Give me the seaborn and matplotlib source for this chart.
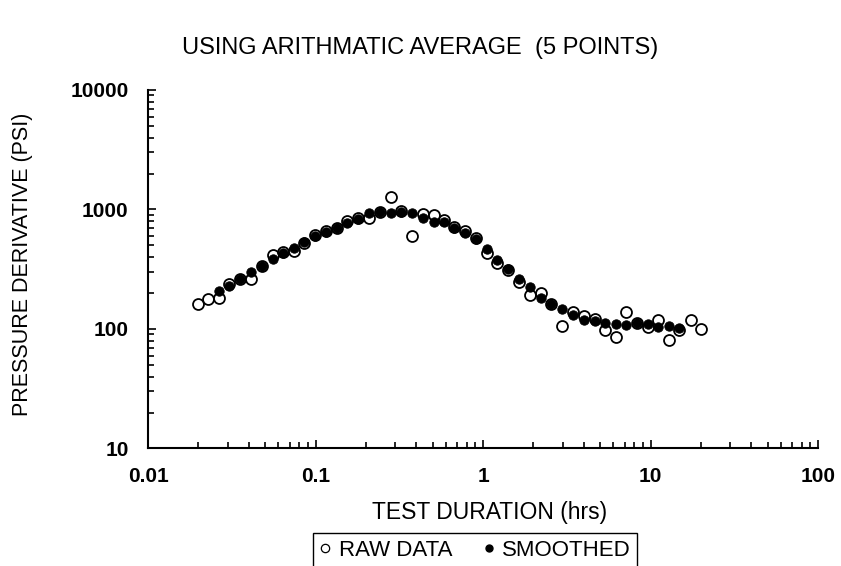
import matplotlib
matplotlib.use("Agg")
import matplotlib.pyplot as plt
import pandas as pd
import seaborn as sns
from matplotlib.ticker import FixedLocator, FixedFormatter, LogLocator, NullFormatter
from matplotlib.lines import Line2D

# Test duration (hrs) for every recorded sample
duration_hrs = [0.0198, 0.0228, 0.0265, 0.0306, 0.0354, 0.0412, 0.0477, 0.0555,
                0.0642, 0.0744, 0.0857, 0.0997, 0.1155, 0.1338, 0.1552, 0.1794,
                0.2096, 0.2427, 0.2804, 0.3253, 0.3768, 0.4384, 0.5078, 0.5852,
                0.6742, 0.7808, 0.9083, 1.049, 1.217, 1.416, 1.629, 1.908,
                2.204, 2.536, 2.951, 3.432, 3.981, 4.632, 5.351, 6.180,
                7.140, 8.274, 9.596, 11.13, 12.95, 14.86, 17.33, 19.94]

# Raw pressure derivative (psi)
raw_derivative = [162, 178, 182, 238, 262, 260, 337, 416,
                  441, 450, 525, 612, 661, 700, 801, 857,
                  841, 953, 1272, 977, 600, 917, 899, 817,
                  714, 661, 574, 430, 355, 312, 247, 191,
                  201, 162, 105, 139, 129, 121, 97.5, 85.2,
                  138, 112, 103, 118, 81.5, 97.5, 119, 99.4]

# 5-point arithmetic average (centred, so the two end samples on each side drop out)
smoothed_duration = duration_hrs[2:46]
smoothed_derivative = [206, 227, 260, 302, 337, 382, 433, 474,
                       530, 595, 648, 696, 775, 828, 926, 958,
                       930, 958, 930, 844, 781, 791, 704, 640,
                       567, 463, 378, 315, 260, 225, 181, 162,
                       146, 131, 120, 117, 113, 111, 107, 113,
                       111, 104, 105, 101]

x_ticks = [0.01, 0.1, 1, 10, 100]
x_tick_labels = ["0.01", "0.1", "1", "10", "100"]
y_ticks = [10, 100, 1000, 10000]
y_tick_labels = ["10", "100", "1000", "10000"]

sns.set_style("ticks")
plt.rcParams["font.family"] = ["Liberation Sans", "DejaVu Sans"]
plt.rcParams.update({"text.color": "black", "axes.labelcolor": "black",
                     "xtick.color": "black", "ytick.color": "black"})

raw_df = pd.DataFrame({"duration": duration_hrs, "derivative": raw_derivative})
smooth_df = pd.DataFrame({"duration": smoothed_duration, "derivative": smoothed_derivative})

fig = plt.figure(figsize=(8.41, 5.66), dpi=100)
ax = fig.add_axes([0.176, 0.2076, 0.7967, 0.6334])

sns.scatterplot(data=raw_df, x="duration", y="derivative", ax=ax, marker="o",
                s=62, color="white", edgecolor="black", linewidth=1.3, zorder=2,
                legend=False)
sns.scatterplot(data=smooth_df, x="duration", y="derivative", ax=ax, marker="o",
                s=46, color="black", edgecolor="black", linewidth=0.6, zorder=3,
                legend=False)

ax.set_xscale("log")
ax.set_yscale("log")
ax.set_xlim(0.01, 100)
ax.set_ylim(10, 10000)

ax.xaxis.set_major_locator(FixedLocator(x_ticks))
ax.xaxis.set_major_formatter(FixedFormatter(x_tick_labels))
ax.yaxis.set_major_locator(FixedLocator(y_ticks))
ax.yaxis.set_major_formatter(FixedFormatter(y_tick_labels))
for axis in (ax.xaxis, ax.yaxis):
    axis.set_minor_locator(LogLocator(base=10, subs=range(2, 10), numticks=20))
    axis.set_minor_formatter(NullFormatter())

ax.tick_params(which="both", direction="in", color="black", width=1.2)
ax.tick_params(which="major", length=6, labelsize=15)
ax.tick_params(which="minor", length=4)
ax.tick_params(axis="x", which="major", pad=13)
ax.tick_params(axis="y", which="major", pad=14)
for lbl in ax.get_xticklabels() + ax.get_yticklabels():
    lbl.set_fontweight("bold")

for side in ("top", "right"):
    ax.spines[side].set_visible(False)
for side in ("left", "bottom"):
    ax.spines[side].set_linewidth(1.5)
    ax.spines[side].set_color("black")

ax.set_xlabel("TEST DURATION (hrs)", fontsize=16.5)
ax.xaxis.set_label_coords(0.5104, (448.5 - 513) / 358.5)
ax.xaxis.label.set_va("center")
ax.set_ylabel("PRESSURE DERIVATIVE (PSI)", fontsize=15.5)
ax.yaxis.set_label_coords((22 - 148) / 670, (448.5 - 264) / 358.5)
ax.yaxis.label.set_va("center")

fig.text(0.499, 1 - 48 / 566, "USING ARITHMATIC AVERAGE  (5 POINTS)",
         ha="center", va="center", fontsize=17)

handles = [
    Line2D([], [], marker="o", ls="", mfc="white", mec="black", ms=6, mew=0.9),
    Line2D([], [], marker="o", ls="", mfc="black", mec="black", ms=5),
]
leg = fig.legend(handles=handles, labels=["RAW DATA", "SMOOTHED"],
                 loc="upper left", bbox_to_anchor=(313 / 841, 1 - 533 / 566),
                 ncol=2, frameon=True, fancybox=False, edgecolor="black",
                 framealpha=1, fontsize=16, handlelength=0.5, handletextpad=0.35,
                 columnspacing=1.4, borderpad=0.3, borderaxespad=0)
leg.get_frame().set_linewidth(1.0)

fig.savefig("out.png", dpi=100)
